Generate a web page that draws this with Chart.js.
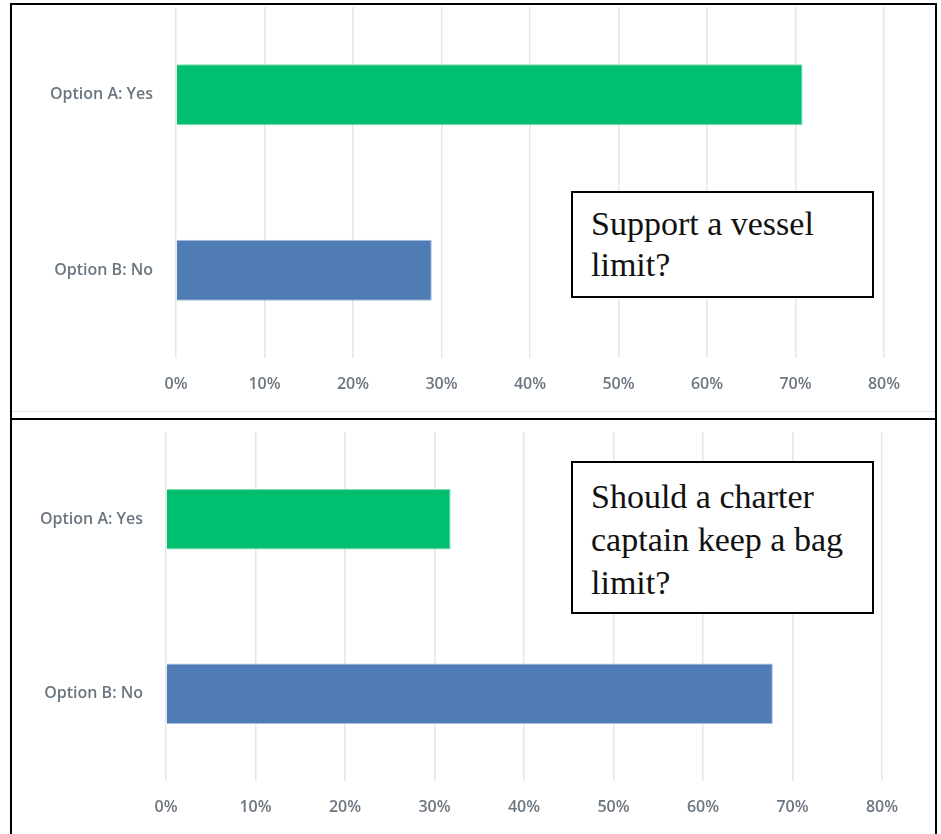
<!DOCTYPE html>
<html>
<head>
<meta charset="utf-8">
<script src="https://cdn.jsdelivr.net/npm/chart.js@4"></script>
<style>
  html, body { margin: 0; padding: 0; background: #fff; }
  body { width: 941px; height: 834px; position: relative; overflow: hidden; }
  .frame { position: absolute; box-sizing: border-box; border: 2px solid #000; }
  .chartbox { position: absolute; }
  .note { position: absolute; box-sizing: border-box; border: 2px solid #000; background: #fff; }
  .notetext { position: absolute; font-family: "Liberation Serif", "DejaVu Serif", serif; font-size: 34px; color: #111; white-space: nowrap; }
  .hr { position: absolute; height: 1px; background: #e6e6e6; }
</style>
</head>
<body>
<div class="frame" style="left:10px; top:3px; width:927px; height:417px;"></div>
<div class="frame" style="left:10px; top:418px; width:927px; height:430px; border-top:none;"></div>
<div class="hr" style="left:12px; top:411px; width:923px;"></div>

<div class="chartbox" style="left:12px; top:5px; width:922px; height:406px;"><canvas id="c1"></canvas></div>
<div class="chartbox" style="left:12px; top:421px; width:922px; height:413px;"><canvas id="c2"></canvas></div>

<div class="note" style="left:571px; top:191px; width:303px; height:107px;"></div>
<div class="notetext" style="left:591px; top:203px; line-height:41px;">Support a vessel<br>limit?</div>

<div class="note" style="left:571px; top:461px; width:303px; height:153px;"></div>
<div class="notetext" style="left:591px; top:475px; line-height:43px;">Should a charter<br>captain keep a bag<br>limit?</div>

<script>
const categories = ['Option A: Yes', 'Option B: No'];
const vesselLimitValues = [70.8, 28.9];
const bagLimitValues = [31.8, 67.8];
const barColors = ['#00bf6f', '#507cb6'];
const axisMax = 80;
const axisStep = 10;

function makeChart(id, values, yWidth, padRight, padTop, xHeight) {
  return new Chart(document.getElementById(id), {
    type: 'bar',
    data: {
      labels: categories,
      datasets: [{
        data: values,
        backgroundColor: barColors,
        borderColor: ['#7fdcb4', '#a3bde0'],
        borderWidth: 1,
        borderSkipped: 'left',
        categoryPercentage: 1,
        barPercentage: 0.348
      }]
    },
    options: {
      indexAxis: 'y',
      responsive: true,
      maintainAspectRatio: false,
      animation: false,
      devicePixelRatio: 1,
      layout: { padding: { left: 0, right: padRight, top: padTop, bottom: 0 } },
      plugins: { legend: { display: false }, tooltip: { enabled: false } },
      scales: {
        x: {
          min: 0,
          max: axisMax,
          afterFit: s => { s.height = xHeight; s.paddingLeft = 0; s.paddingRight = 0; },
          ticks: {
            stepSize: axisStep,
            callback: v => v + '%',
            color: '#6b7680',
            font: { family: '"Open Sans", sans-serif', size: 16, weight: '600' },
            padding: 17,
            maxRotation: 0
          },
          grid: { color: '#e6e6e6', lineWidth: 1.5, drawTicks: false },
          border: { display: false }
        },
        y: {
          afterFit: s => { s.width = yWidth; s.paddingTop = 0; s.paddingBottom = 0; },
          ticks: {
            color: '#6b7680',
            font: { family: '"Open Sans", sans-serif', size: 16, weight: '600' },
            padding: 23
          },
          grid: { display: false, drawTicks: false },
          border: { display: false }
        }
      }
    }
  });
}

makeChart('c1', vesselLimitValues, 164, 50, 2, 53);
makeChart('c2', bagLimitValues, 154, 52, 11, 53);
</script>
</body>
</html>
